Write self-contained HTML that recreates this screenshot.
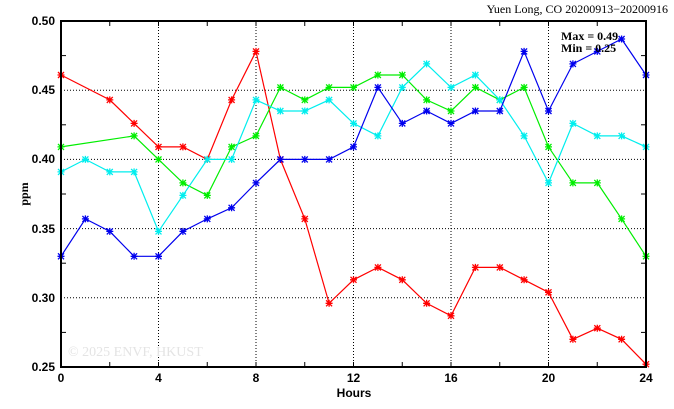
<!DOCTYPE html>
<html><head><meta charset="utf-8"><style>
html,body{margin:0;padding:0;background:#fff;}
svg{display:block;font-family:"Liberation Sans",sans-serif;}
.s{font-family:"Liberation Serif",serif;}
</style></head><body>
<svg id="c" width="674" height="409" viewBox="0 0 674 409" xmlns="http://www.w3.org/2000/svg">
<defs>
<marker id="mr" viewBox="-4 -4 8 8" markerWidth="8" markerHeight="8" markerUnits="userSpaceOnUse"><path d="M-3,-3L3,3M-3,3L3,-3M0,-3.5V3.5M-3.5,0H3.5" stroke="#f00" stroke-width="1.3"/></marker>
<marker id="mg" viewBox="-4 -4 8 8" markerWidth="8" markerHeight="8" markerUnits="userSpaceOnUse"><path d="M-3,-3L3,3M-3,3L3,-3M0,-3.5V3.5M-3.5,0H3.5" stroke="#0e0" stroke-width="1.3"/></marker>
<marker id="mc" viewBox="-4 -4 8 8" markerWidth="8" markerHeight="8" markerUnits="userSpaceOnUse"><path d="M-3,-3L3,3M-3,3L3,-3M0,-3.5V3.5M-3.5,0H3.5" stroke="#0ee" stroke-width="1.3"/></marker>
<marker id="mb" viewBox="-4 -4 8 8" markerWidth="8" markerHeight="8" markerUnits="userSpaceOnUse"><path d="M-3,-3L3,3M-3,3L3,-3M0,-3.5V3.5M-3.5,0H3.5" stroke="#00e" stroke-width="1.3"/></marker>
</defs>
<g id="grid" stroke="#000" stroke-width="1" stroke-dasharray="1,2"></g>
<text x="68" y="356" class="s" font-size="14" fill="#e4e4e4">© 2025  ENVF, HKUST</text>
<g id="series"></g>
<rect x="61" y="21" width="585" height="346" fill="none" stroke="#000" stroke-width="2"/>
<g id="ticks" stroke="#000" stroke-width="1"></g>
<g font-size="12" font-weight="bold" text-anchor="end">
<text x="55" y="25">0.50</text><text x="55" y="94">0.45</text><text x="55" y="163">0.40</text>
<text x="55" y="233">0.35</text><text x="55" y="302">0.30</text><text x="55" y="371">0.25</text>
</g>
<g font-size="12" font-weight="bold" text-anchor="middle">
<text x="61" y="382">0</text><text x="158.5" y="382">4</text><text x="256" y="382">8</text>
<text x="353.5" y="382">12</text><text x="451" y="382">16</text><text x="548.5" y="382">20</text><text x="646" y="382">24</text>
<text x="354" y="397">Hours</text>
</g>
<text transform="translate(28,194) rotate(-90)" font-size="12" font-weight="bold" text-anchor="middle" class="s">ppm</text>
<text x="668" y="13" font-size="12" text-anchor="end" class="s">Yuen Long, CO 20200913−20200916</text>
<text x="561" y="40" font-size="12" font-weight="bold" class="s">Max = 0.49</text>
<text x="561" y="52" font-size="12" font-weight="bold" class="s">Min = 0.25</text>
</svg>
<script>
var X=function(h){return 61+24.375*h},Y=function(v){return 367-(v-0.25)*1384};
var g=document.getElementById('grid'),t=document.getElementById('ticks'),s=document.getElementById('series'),ns='http://www.w3.org/2000/svg';
function L(p,a,b,c,d){var e=document.createElementNS(ns,'line');e.setAttribute('x1',a);e.setAttribute('y1',b);e.setAttribute('x2',c);e.setAttribute('y2',d);p.appendChild(e);}
[4,8,12,16,20].forEach(function(h){L(g,X(h),21,X(h),367);});
[0.30,0.35,0.40,0.45].forEach(function(v){L(g,61,Y(v),646,Y(v));});
for(var h=2;h<24;h+=2){L(t,X(h),367,X(h),362);L(t,X(h),21,X(h),26);}
for(var v=0.275;v<0.5;v+=0.05){L(t,61,Y(v),66,Y(v));L(t,646,Y(v),641,Y(v));}
var D={
r:['#f00',[[0,.461],[2,.443],[3,.426],[4,.409],[5,.409],[6,.400],[7,.443],[8,.478],[9,.400],[10,.357],[11,.296],[12,.313],[13,.322],[14,.313],[15,.296],[16,.287],[17,.322],[18,.322],[19,.313],[20,.304],[21,.270],[22,.278],[23,.270],[24,.252]]],
g:['#0e0',[[0,.409],[3,.417],[4,.400],[5,.383],[6,.374],[7,.409],[8,.417],[9,.452],[10,.443],[11,.452],[12,.452],[13,.461],[14,.461],[15,.443],[16,.435],[17,.452],[18,.443],[19,.452],[20,.409],[21,.383],[22,.383],[23,.357],[24,.330]]],
c:['#0ee',[[0,.391],[1,.400],[2,.391],[3,.391],[4,.348],[5,.374],[6,.400],[7,.400],[8,.443],[9,.435],[10,.435],[11,.443],[12,.426],[13,.417],[14,.452],[15,.469],[16,.452],[17,.461],[18,.443],[19,.417],[20,.383],[21,.426],[22,.417],[23,.417],[24,.409]]],
b:['#00e',[[0,.330],[1,.357],[2,.348],[3,.330],[4,.330],[5,.348],[6,.357],[7,.365],[8,.383],[9,.400],[10,.400],[11,.400],[12,.409],[13,.452],[14,.426],[15,.435],[16,.426],[17,.435],[18,.435],[19,.478],[20,.435],[21,.469],[22,.478],[23,.487],[24,.461]]]};
['r','g','c','b'].forEach(function(k){var p=document.createElementNS(ns,'polyline');
p.setAttribute('points',D[k][1].map(function(q){return X(q[0]).toFixed(1)+','+Y(q[1]).toFixed(1)}).join(' '));
p.setAttribute('fill','none');p.setAttribute('stroke',D[k][0]);p.setAttribute('stroke-width','1.2');
['marker-start','marker-mid','marker-end'].forEach(function(m){p.setAttribute(m,'url(#m'+k+')')});s.appendChild(p);});
</script>
</body></html>
